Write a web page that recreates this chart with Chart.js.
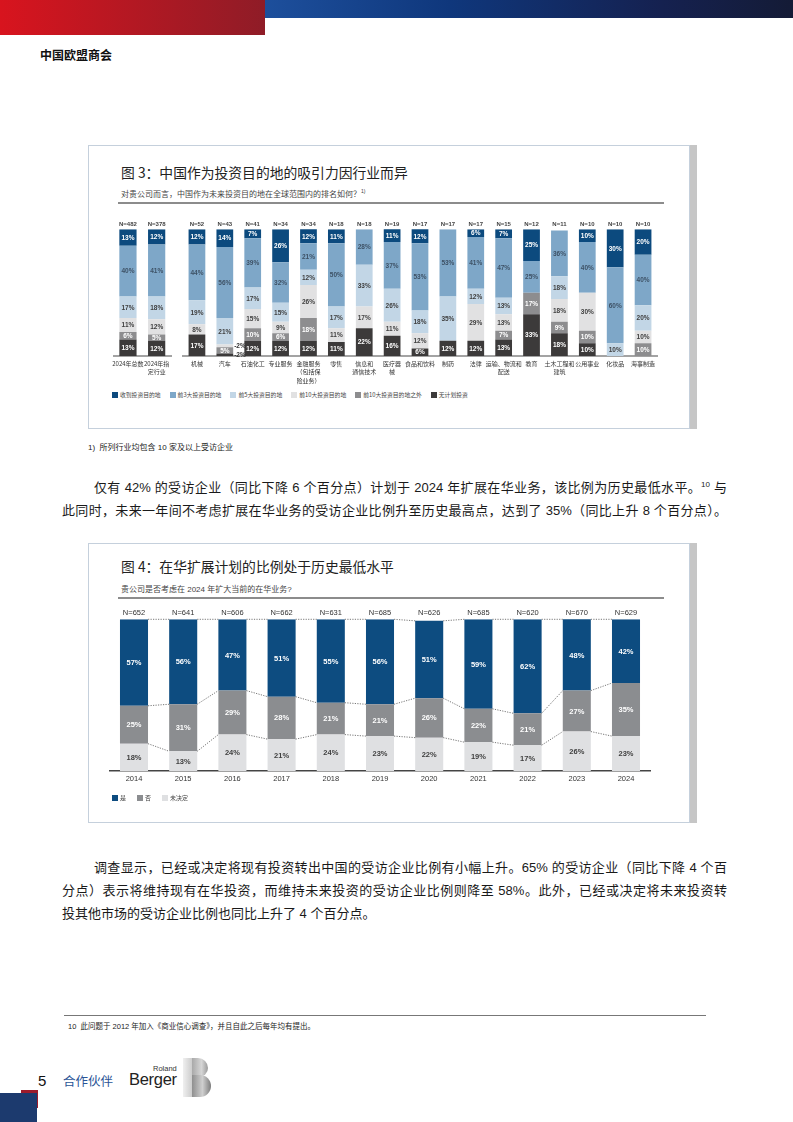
<!DOCTYPE html>
<html>
<head>
<meta charset="utf-8">
<script src="https://cdn.jsdelivr.net/npm/chart.js@4.4.1/dist/chart.umd.min.js"></script>
<style>
  body { margin:0; width:793px; height:1122px; position:relative; overflow:hidden; background:#fff;
         font-family:"Liberation Sans","Noto Sans CJK SC",sans-serif; color:#1a1a1a; }
  .abs { position:absolute; }
  .hdr-red { left:0; top:0; width:265px; height:35px; background:linear-gradient(90deg,#d8141e,#8f1c27); }
  .hdr-blue { left:265px; top:0; width:528px; height:18px; background:linear-gradient(90deg,#1d4f9c,#0f377c 35%,#152150 75%,#141b36); }
  .org { left:40px; top:46px; font:bold 12px "Noto Sans CJK SC"; color:#111; }
  .box { border:1px solid #c5d0dc; box-shadow:7px 0 0 #c6c6c6; background:#fff; }
  .title { font:13.8px "Noto Sans CJK SC"; color:#222; white-space:nowrap; }
  .sub { font:8px "Liberation Sans","Noto Sans CJK SC"; color:#444; white-space:nowrap; }
  .rule { height:1.5px; background:#8c8c8c; }
  .legend { display:flex; align-items:center; font:5.8px "Noto Sans CJK SC"; color:#444; white-space:nowrap; }
  .legend span.sq { display:inline-block; width:6px; height:6px; margin-right:2px; }
  .legend span.it { display:flex; align-items:center; }
  .para { left:62px; width:665px; font-size:13px; line-height:23px; }
  .para div { text-align:justify; text-align-last:justify; }
  .para div.last { text-align-last:left; }
  sup { font-size:8px; line-height:0; }
  canvas { position:absolute; }
</style>
</head>
<body>
<div class="abs hdr-red"></div>
<div class="abs hdr-blue"></div>
<div class="abs org">中国欧盟商会</div>

<!-- figure 3 -->
<div class="abs box" style="left:88px;top:145px;width:600px;height:282px;"></div>
<div class="abs title" style="left:121px;top:162px;">图 3：中国作为投资目的地的吸引力因行业而异</div>
<div class="abs sub" style="left:121px;top:188px;">对贵公司而言，中国作为未来投资目的地在全球范围内的排名如何？<sup style="font-size:5px">1)</sup></div>
<div class="abs rule" style="left:118px;top:202px;width:546px;"></div>
<canvas id="c1a" width="80" height="175" style="left:100px;top:215px;"></canvas>
<canvas id="c1b" width="490" height="175" style="left:175px;top:215px;"></canvas>
<div class="abs legend" id="leg1" style="left:112px;top:390px;"></div>
<div class="abs" style="left:88px;top:441px;font:8px 'Liberation Sans','Noto Sans CJK SC';color:#222;">1)&nbsp; 所列行业均包含 10 家及以上受访企业</div>

<div class="abs para" style="top:476px;">
  <div style="text-indent:32px;">仅有 42% 的受访企业（同比下降 6 个百分点）计划于 2024 年扩展在华业务，该比例为历史最低水平。<sup>10</sup> 与</div>
  <div>此同时，未来一年间不考虑扩展在华业务的受访企业比例升至历史最高点，达到了 35%（同比上升 8 个百分点）。</div>
</div>

<!-- figure 4 -->
<div class="abs box" style="left:88px;top:543px;width:600px;height:278px;"></div>
<div class="abs title" style="left:121px;top:556px;">图 4：在华扩展计划的比例处于历史最低水平</div>
<div class="abs sub" style="left:121px;top:583px;">贵公司是否考虑在 2024 年扩大当前的在华业务?</div>
<div class="abs rule" style="left:118px;top:597px;width:546px;"></div>
<canvas id="c2" width="575" height="200" style="left:95px;top:595px;"></canvas>
<div class="abs legend" id="leg2" style="left:112px;top:793px;font-size:6px;"></div>

<div class="abs para" style="top:856px;">
  <div style="text-indent:32px;">调查显示，已经或决定将现有投资转出中国的受访企业比例有小幅上升。65% 的受访企业（同比下降 4 个百</div>
  <div>分点）表示将维持现有在华投资，而维持未来投资的受访企业比例则降至 58%。此外，已经或决定将未来投资转</div>
  <div class="last">投其他市场的受访企业比例也同比上升了 4 个百分点。</div>
</div>

<div class="abs" style="left:64px;top:1015px;width:642px;height:1px;background:#777;"></div>
<div class="abs" style="left:68px;top:1020px;font:7.5px 'Liberation Sans','Noto Sans CJK SC';color:#222;white-space:nowrap;">10&nbsp; 此问题于 2012 年加入《商业信心调查》，并且自此之后每年均有提出。</div>

<!-- footer -->
<div class="abs" style="left:21px;top:1090px;width:17px;height:18px;background:#9c1b2b;"></div>
<div class="abs" style="left:0;top:1093px;width:37px;height:29px;background:#1c3a6e;"></div>
<div class="abs" style="left:38px;top:1072px;font:15px 'Liberation Sans';color:#111;">5</div>
<div class="abs" style="left:63px;top:1071px;font:12.5px 'Noto Sans CJK SC';color:#2a5496;">合作伙伴</div>
<div class="abs" style="left:153px;top:1064px;font:7.5px 'Liberation Sans';color:#333;">Roland</div>
<div class="abs" style="left:129px;top:1070px;font:16.5px 'Liberation Sans';color:#222;letter-spacing:-0.3px;">Berger</div>
<div class="abs" style="left:183px;top:1058px;width:13px;height:39px;background:linear-gradient(90deg,#f0f0f0,#bdbdbd);"></div>
<div class="abs" style="left:192px;top:1058px;width:16px;height:19px;border-radius:0 10px 9px 0;background:linear-gradient(90deg,#a9a9a9,#d6d6d6 60%,#9a9a9a);"></div>
<div class="abs" style="left:192px;top:1075px;width:19px;height:22px;border-radius:0 12px 12px 0;background:linear-gradient(90deg,#8f8f8f,#cfcfcf 55%,#7d7d7d);"></div>

<script>
// ---- figure 3 data ----
const industries = ['2024年总数', ['2024年指', '定行业'], '机械', '汽车', '石油化工', '专业服务',
  ['金融服务', '（包括保', '险业务）'], '零售', ['信息和', '通信技术'], ['医疗器', '械'], '食品和饮料',
  '制药', '法律', ['运输、物流和', '配送'], '教育', ['土木工程和', '建筑'], '公用事业', '化妆品', '海事制造'];
const sampleN   = [482, 378, 52, 43, 41, 34, 34, 18, 18, 19, 17, 17, 17, 15, 12, 11, 10, 10, 10];
const topDest   = [13, 12, 12, 14, 7, 26, 12, 11, 0, 11, 12, 0, 6, 7, 25, 0, 10, 30, 20];
const top3      = [40, 41, 44, 56, 39, 32, 21, 50, 28, 37, 53, 53, 41, 47, 25, 36, 40, 60, 40];
const top5      = [17, 18, 19, 21, 17, 15, 12, 17, 33, 26, 18, 35, 12, 13, 0, 18, 0, 10, 20];
const top10     = [11, 12, 8, 2, 15, 9, 26, 11, 17, 11, 12, 0, 29, 13, 0, 18, 30, 0, 10];
const outside10 = [6, 5, 0, 5, 10, 6, 18, 0, 0, 0, 0, 0, 0, 7, 17, 9, 10, 0, 10];
const noPlan    = [13, 12, 17, 2, 12, 12, 12, 11, 22, 16, 6, 12, 12, 13, 33, 18, 10, 0, 0];
const fig3Names = ['收到投资目的地', '前3大投资目的地', '前5大投资目的地', '前10大投资目的地', '前10大投资目的地之外', '无计划投资'];
const fig3Colors = ['#0c4a7e', '#7ea7c8', '#c2d6e6', '#e1e1e2', '#8d8d8f', '#3c3a3a'];
const fig3Text = ['#ffffff', '#3e5266', '#404040', '#404040', '#ffffff', '#ffffff'];

// ---- figure 4 data ----
const years = ['2014', '2015', '2016', '2017', '2018', '2019', '2020', '2021', '2022', '2023', '2024'];
const yearN = [652, 641, 606, 662, 631, 685, 626, 685, 620, 670, 629];
const yes = [57, 56, 47, 51, 55, 56, 51, 59, 62, 48, 42];
const no = [25, 31, 29, 28, 21, 21, 26, 22, 21, 27, 35];
const undecided = [18, 13, 24, 21, 24, 23, 22, 19, 17, 26, 23];
const fig4Names = ['是', '否', '未决定'];
const fig4Colors = ['#0d4c80', '#8b8d90', '#dfe0e2'];

// value labels inside the segments
const segLabels = {
  id: 'segLabels',
  afterDatasetsDraw(chart, args, opts) {
    const ctx = chart.ctx;
    ctx.save();
    ctx.font = opts.font;
    ctx.textBaseline = 'middle';
    chart.data.datasets.forEach((ds, i) => {
      chart.getDatasetMeta(i).data.forEach((bar, j) => {
        const v = ds.data[j];
        if (!v) return;
        const y = (Math.max(bar.y, chart.chartArea.top) + bar.base) / 2;
        if (v < opts.minInside) {
          ctx.textAlign = 'left';
          ctx.fillStyle = '#333';
          ctx.fillText('-' + v + '%', bar.x + bar.width / 2 + 1, y);
        } else {
          ctx.textAlign = 'center';
          ctx.fillStyle = ds.textColor;
          ctx.fillText(v + '%', bar.x, y + 0.5);
        }
      });
    });
    ctx.restore();
  }
};

// N= labels over the bars
const nLabels = {
  id: 'nLabels',
  afterDraw(chart, args, opts) {
    const ctx = chart.ctx;
    ctx.save();
    ctx.font = opts.font;
    ctx.fillStyle = opts.color;
    ctx.textAlign = 'center';
    ctx.textBaseline = 'bottom';
    chart.getDatasetMeta(0).data.forEach((bar, j) => {
      ctx.fillText('N=' + opts.values[j], bar.x, chart.chartArea.top - opts.gap);
    });
    ctx.restore();
  }
};

// dotted lines joining segment edges of neighbouring bars
const connectors = {
  id: 'connectors',
  afterDatasetsDraw(chart) {
    const ctx = chart.ctx, ys = chart.scales.y;
    const n = chart.data.labels.length;
    ctx.save();
    ctx.strokeStyle = '#555';
    ctx.lineWidth = 0.8;
    ctx.setLineDash([1.2, 1.3]);
    for (let j = 0; j < n - 1; j++) {
      let c0 = 0, c1 = 0;
      chart.data.datasets.forEach((ds, i) => {
        c0 += ds.data[j];
        c1 += ds.data[j + 1];
        const a = chart.getDatasetMeta(i).data[j], b = chart.getDatasetMeta(i).data[j + 1];
        ctx.beginPath();
        ctx.moveTo(a.x + a.width / 2, ys.getPixelForValue(Math.min(c0, 100)));
        ctx.lineTo(b.x - b.width / 2, ys.getPixelForValue(Math.min(c1, 100)));
        ctx.stroke();
      });
    }
    ctx.restore();
  }
};

function fig3Chart(id, from, to, pad) {
  const series = [noPlan, outside10, top10, top5, top3, topDest];
  const datasets = series.map((arr, k) => {
    const idx = 5 - k;
    return {
      label: fig3Names[idx],
      data: arr.slice(from, to),
      backgroundColor: fig3Colors[idx],
      textColor: fig3Text[idx]
    };
  });
  return new Chart(document.getElementById(id), {
    type: 'bar',
    data: { labels: industries.slice(from, to), datasets: datasets },
    options: {
      responsive: false,
      animation: false,
      layout: { padding: pad },
      datasets: { bar: { categoryPercentage: 1, barPercentage: 0.6, borderWidth: 0 } },
      plugins: {
        legend: { display: false },
        tooltip: { enabled: false },
        segLabels: { font: 'bold 6.5px "Liberation Sans Narrow","Liberation Sans"', minInside: 4 },
        nLabels: { values: sampleN.slice(from, to), font: 'bold 6px "Liberation Sans Narrow","Liberation Sans"', color: '#444', gap: 2 }
      },
      scales: {
        x: {
          stacked: true,
          grid: { display: false, drawTicks: false },
          border: { color: '#a3a3a3', width: 2 },
          ticks: { color: '#333', font: { family: 'Noto Sans CJK SC', size: 6, lineHeight: 1.45 }, padding: 3, maxRotation: 0, autoSkip: false },
          afterFit: s => { s.height = 30; }
        },
        y: { stacked: true, display: false, min: 0, max: 100 }
      }
    },
    plugins: [segLabels, nLabels]
  });
}

fig3Chart('c1a', 0, 2, { left: 13.6, right: 9, top: 14.3, bottom: 4 });
fig3Chart('c1b', 2, 19, { left: 8, right: 8, top: 14.3, bottom: 4 });

new Chart(document.getElementById('c2'), {
  type: 'bar',
  data: {
    labels: years,
    datasets: [
      { label: fig4Names[2], data: undecided, backgroundColor: fig4Colors[2], textColor: '#404040' },
      { label: fig4Names[1], data: no, backgroundColor: fig4Colors[1], textColor: '#ffffff' },
      { label: fig4Names[0], data: yes, backgroundColor: fig4Colors[0], textColor: '#ffffff' }
    ]
  },
  options: {
    responsive: false,
    animation: false,
    layout: { padding: { left: 14.4, right: 19.4, top: 24.3, bottom: 4 } },
    datasets: { bar: { categoryPercentage: 1, barPercentage: 0.57, borderWidth: 0 } },
    plugins: {
      legend: { display: false },
      tooltip: { enabled: false },
      segLabels: { font: 'bold 7.5px "Liberation Sans"', minInside: 0 },
      nLabels: { values: yearN, font: '7.5px "Liberation Sans"', color: '#333', gap: 3 }
    },
    scales: {
      x: {
        stacked: true,
        grid: { display: false, drawTicks: false },
        border: { color: '#444', width: 1.5 },
        ticks: { color: '#333', font: { family: 'Liberation Sans', size: 7.5 }, padding: 3 },
        afterFit: s => { s.height = 20; }
      },
      y: { stacked: true, display: false, min: 0, max: 100 }
    }
  },
  plugins: [connectors, segLabels, nLabels]
});

// legends
function buildLegend(elId, names, colors, gap) {
  const el = document.getElementById(elId);
  names.forEach((name, i) => {
    const it = document.createElement('span');
    it.className = 'it';
    if (i > 0) it.style.marginLeft = gap + 'px';
    it.innerHTML = '<span class="sq" style="background:' + colors[i] + '"></span>' + name;
    el.appendChild(it);
  });
}
buildLegend('leg1', fig3Names, fig3Colors, 9);
buildLegend('leg2', fig4Names, fig4Colors, 11);
</script>
</body>
</html>
